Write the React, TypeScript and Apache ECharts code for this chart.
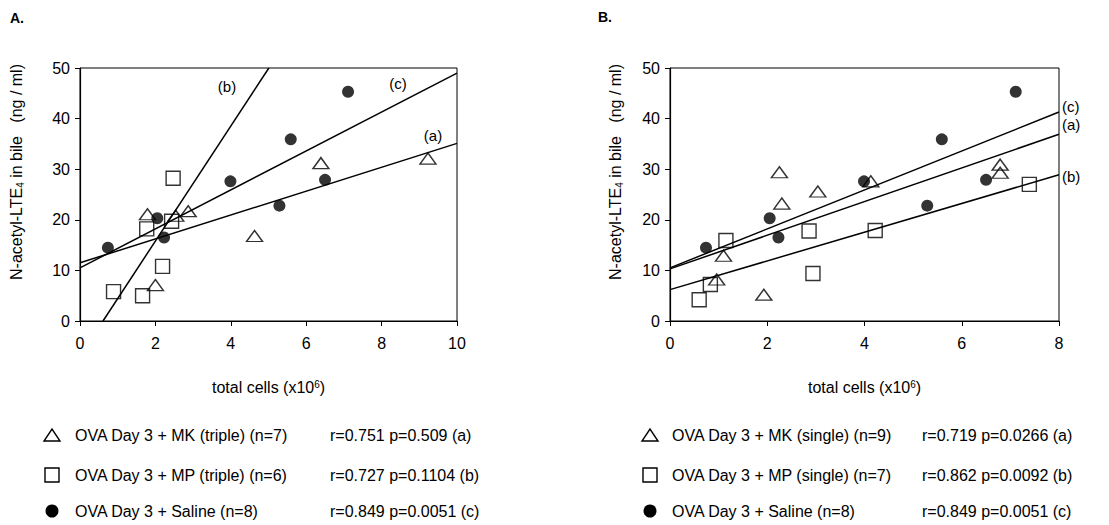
import React, { useEffect, useRef } from "react";
import * as echarts from "echarts";

const FONT = '"Liberation Sans", Arial, Helvetica, sans-serif';

// ---------- data ----------
const salineXY = [
  [0.74, 14.5], [2.05, 20.3], [2.23, 16.5], [3.99, 27.6],
  [5.29, 22.8], [5.59, 35.9], [6.5, 27.9], [7.11, 45.3],
];
const mkTripleXY = [
  [1.79, 21.1], [2.0, 7.1], [2.54, 20.8], [2.87, 21.7],
  [4.63, 16.8], [6.39, 31.2], [9.23, 32.1],
];
const mpTripleXY = [
  [0.89, 5.8], [1.66, 5.0], [1.77, 18.2], [2.19, 10.8], [2.43, 19.7], [2.47, 28.2],
];
const mkSingleXY = [
  [0.96, 8.2], [1.1, 12.9], [1.93, 5.2], [2.25, 29.4], [2.3, 23.2],
  [3.04, 25.6], [4.13, 27.6], [6.79, 30.9], [6.79, 29.3],
];
const mpSingleXY = [
  [0.6, 4.2], [0.83, 7.2], [1.15, 15.9], [2.86, 17.8], [2.94, 9.4], [4.22, 17.9], [7.39, 27.0],
];

// regression line end points
const fitA_a = [[0, 11.5], [10, 35.1]];
const fitA_b = [[0.61, 0], [5.01, 50]];
const fitA_c = [[0, 10.5], [10, 49.0]];
const fitB_a = [[0, 10.3], [8, 36.9]];
const fitB_b = [[0, 6.2], [8, 28.9]];
const fitB_c = [[0, 10.5], [8, 41.3]];

const legendNamesA = [
  "OVA Day 3 + MK (triple) (n=7)",
  "OVA Day 3 + MP (triple) (n=6)",
  "OVA Day 3 + Saline (n=8)",
];
const legendStatsA = [
  "r=0.751 p=0.509 (a)",
  "r=0.727 p=0.1104 (b)",
  "r=0.849 p=0.0051 (c)",
];
const legendNamesB = [
  "OVA Day 3 + MK (single) (n=9)",
  "OVA Day 3 + MP (single) (n=7)",
  "OVA Day 3 + Saline (n=8)",
];
const legendStatsB = [
  "r=0.719 p=0.0266 (a)",
  "r=0.862 p=0.0092 (b)",
  "r=0.849 p=0.0051 (c)",
];

const xMaxA = 10;
const xMaxB = 8;
const yMax = 50;

// ---------- styles ----------
const BLACK = "#000";
const triStyle = { color: "rgba(0,0,0,0)", borderColor: BLACK, borderWidth: 1.4 };
const sqStyle = { color: "rgba(0,0,0,0)", borderColor: BLACK, borderWidth: 1.4 };
const dotStyle = { color: BLACK };

function xAxisCfg(gridIndex: number, max: number) {
  return {
    type: "value",
    gridIndex,
    min: 0,
    max,
    interval: 2,
    axisLine: { show: true, lineStyle: { color: BLACK, width: 1.2 } },
    axisTick: { show: true, inside: false, length: 5, lineStyle: { color: BLACK } },
    axisLabel: { color: BLACK, fontSize: 16, fontFamily: FONT, margin: 14 },
    splitLine: { show: false },
    name: "total cells (x10{sup|6})",
    nameLocation: "middle",
    nameGap: 58,
    nameTextStyle: {
      color: BLACK,
      fontSize: 16,
      fontFamily: FONT,
      rich: {
        sup: { fontSize: 10, fontFamily: FONT, color: BLACK, verticalAlign: "top", lineHeight: 10 },
      },
    },
  };
}
function yAxisCfg(gridIndex: number) {
  return {
    type: "value",
    gridIndex,
    min: 0,
    max: yMax,
    interval: 10,
    axisLine: { show: true, lineStyle: { color: BLACK, width: 1.2 } },
    axisTick: { show: true, inside: false, length: 5, lineStyle: { color: BLACK } },
    axisLabel: { color: BLACK, fontSize: 16, fontFamily: FONT, margin: 10 },
    splitLine: { show: false },
  };
}

function scatter(name: string, data: number[][], idx: number, symbol: string, size: any, style: any) {
  return {
    type: "scatter",
    name,
    xAxisIndex: idx,
    yAxisIndex: idx,
    data,
    symbol,
    symbolSize: size,
    itemStyle: style,
    z: 3,
  };
}
function fit(data: number[][], idx: number) {
  return {
    type: "line",
    xAxisIndex: idx,
    yAxisIndex: idx,
    data,
    symbol: "none",
    lineStyle: { color: BLACK, width: 1.5 },
    clip: true,
    z: 2,
  };
}

function txt(text: string, x: number, y: number, extra: any = {}) {
  return {
    type: "text",
    x,
    y,
    style: {
      text,
      fill: BLACK,
      fontSize: 16,
      fontFamily: FONT,
      textVerticalAlign: "middle",
      ...extra,
    },
  };
}

function legendBlock(iconX: number, textX: number, statX: number, names: string[], stats: string[]) {
  const rows = [435, 475, 511];
  const els: any[] = [];
  els.push({
    type: "polygon",
    shape: { points: [[iconX - 8, rows[0] + 6], [iconX + 8, rows[0] + 6], [iconX, rows[0] - 6]] },
    style: { fill: "none", stroke: BLACK, lineWidth: 1.4 },
  });
  els.push({
    type: "rect",
    shape: { x: iconX - 7, y: rows[1] - 7, width: 14, height: 14 },
    style: { fill: "none", stroke: BLACK, lineWidth: 1.4 },
  });
  els.push({
    type: "circle",
    shape: { cx: iconX, cy: rows[2], r: 6.5 },
    style: { fill: BLACK },
  });
  names.forEach((n, i) => {
    els.push(txt(n, textX, rows[i]));
    els.push(txt(stats[i], statX, rows[i]));
  });
  return els;
}

function yName(x: number, y: number) {
  return {
    type: "text",
    x,
    y,
    rotation: Math.PI / 2,
    style: {
      text: "{n|N-acetyl-LTE}{s|4}{n| in bile\u00a0\u00a0\u00a0(ng / ml)}",
      fill: BLACK,
      fontSize: 16,
      fontFamily: FONT,
      align: "center",
      verticalAlign: "middle",
      rich: {
        n: { fontSize: 16, fontFamily: FONT, color: BLACK, lineHeight: 18, verticalAlign: "middle" },
        s: { fontSize: 10, fontFamily: FONT, color: BLACK, lineHeight: 10, verticalAlign: "bottom" },
      },
    },
  };
}

export default function App() {
  const ref = useRef<HTMLDivElement>(null);
  useEffect(() => {
    document.body.style.margin = "0";
    if (!ref.current) return;
    const chart = echarts.init(ref.current, undefined, { renderer: "svg" });
    const option: any = {
      animation: false,
      backgroundColor: "#fff",
      grid: [
        { left: 80, top: 68, width: 377, height: 253, show: true, borderColor: BLACK, borderWidth: 1, backgroundColor: "rgba(0,0,0,0)" },
        { left: 670, top: 68, width: 389, height: 253, show: true, borderColor: BLACK, borderWidth: 1, backgroundColor: "rgba(0,0,0,0)" },
      ],
      xAxis: [xAxisCfg(0, xMaxA), xAxisCfg(1, xMaxB)],
      yAxis: [yAxisCfg(0), yAxisCfg(1)],
      series: [
        fit(fitA_a, 0),
        fit(fitA_b, 0),
        fit(fitA_c, 0),
        scatter("MK triple", mkTripleXY, 0, "triangle", [16, 11], triStyle),
        scatter("MP triple", mpTripleXY, 0, "rect", 14, sqStyle),
        scatter("Saline A", salineXY, 0, "circle", 12, dotStyle),
        fit(fitB_a, 1),
        fit(fitB_b, 1),
        fit(fitB_c, 1),
        scatter("MK single", mkSingleXY, 1, "triangle", [16, 11], triStyle),
        scatter("MP single", mpSingleXY, 1, "rect", 14, sqStyle),
        scatter("Saline B", salineXY, 1, "circle", 12, dotStyle),
      ],
      graphic: [
        txt("A.", 10, 18, { fontWeight: "bold", fontSize: 14 }),
        txt("B.", 598, 17, { fontWeight: "bold", fontSize: 14 }),
        yName(16, 172),
        yName(615, 172),
        txt("(b)", 227, 86, { textAlign: "center", fontSize: 15 }),
        txt("(c)", 398, 83, { textAlign: "center", fontSize: 15 }),
        txt("(a)", 433, 135, { textAlign: "center", fontSize: 15 }),
        txt("(c)", 1062, 106, { fontSize: 15 }),
        txt("(a)", 1062, 124, { fontSize: 15 }),
        txt("(b)", 1062, 176, { fontSize: 15 }),
        ...legendBlock(52, 75, 330, legendNamesA, legendStatsA),
        ...legendBlock(650, 672, 922, legendNamesB, legendStatsB),
      ],
    };
    chart.setOption(option);
    return () => chart.dispose();
  }, []);
  return <div ref={ref} style={{ width: 1109, height: 525 }} />;
}
